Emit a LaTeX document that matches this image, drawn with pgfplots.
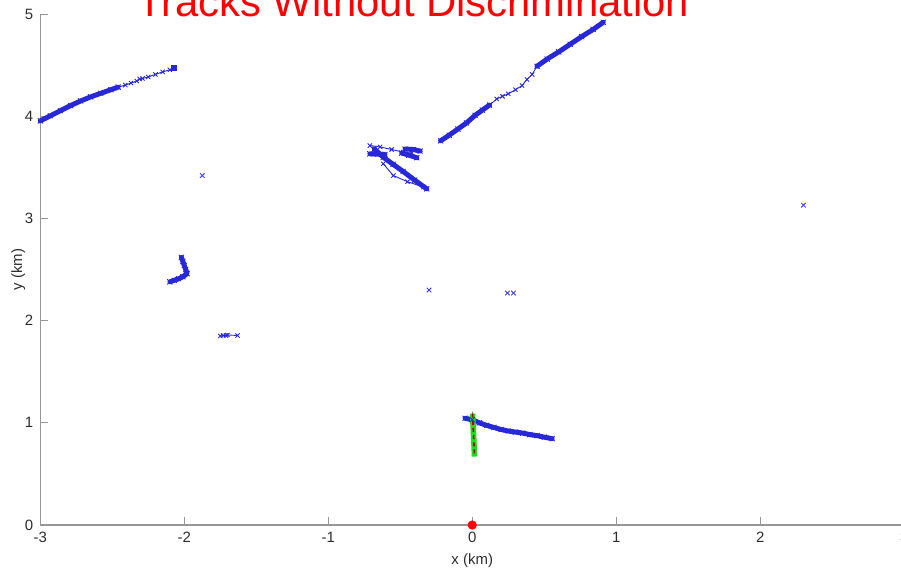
\documentclass[border=0pt]{standalone}
\usepackage{fontspec}
\setmainfont{Liberation Sans}
\usepackage{pgfplots}
\pgfplotsset{compat=1.18}

\definecolor{trk}{RGB}{40,40,215}
\definecolor{axgray}{RGB}{150,150,150}
\definecolor{lblgray}{RGB}{45,45,45}
\definecolor{grn}{RGB}{25,225,25}
\definecolor{ttl}{RGB}{255,0,0}

\begin{document}
\begin{tikzpicture}
\begin{axis}[
  scale only axis,
  width=433.5pt, height=256.4pt,
  xmin=-3, xmax=3, ymin=0, ymax=5,
  axis lines=left,
  axis line style={-, draw=axgray, line width=0.6pt},
  xtick={-3,-2,-1,0,1,2,3},
  xticklabels={-3,-2,-1,0,1,2,3},
  ytick={0,1,2,3,4,5},
  yticklabels={0,1,2,3,4,5},
  tick align=inside,
  major tick length=4pt,
  tick style={draw=axgray, line width=0.5pt},
  ticklabel style={font=\fontsize{7.5}{9}\selectfont, text=lblgray},
  /pgf/number format/assume math mode=true,
  xlabel={x (km)}, ylabel={y (km)},
  every axis x label/.style={at={(axis description cs:0.5,-0.0689)}, anchor=center,
    font=\fontsize{7.5}{9}\selectfont, text=lblgray},
  every axis y label/.style={at={(axis description cs:-0.0255,0.5)}, anchor=center,
    rotate=90, font=\fontsize{7.5}{9}\selectfont, text=lblgray},
  clip=false,
  trackband/.style={trk, line width=2.5pt, line join=round, line cap=round,
    mark=x, mark size=1.7pt, mark options={line width=0.45pt, trk}},
  trackthin/.style={trk, line width=0.45pt,
    mark=x, mark size=1.5pt, mark options={line width=0.45pt, trk}},
  single/.style={only marks, mark=x, mark size=1.6pt, mark options={line width=0.5pt, trk!85}},
]

% ---- track north-west: dense then sparse
\addplot[trackband] coordinates {
  (-3.00,3.955) (-2.93,4.005) (-2.86,4.055) (-2.79,4.105) (-2.72,4.150)
  (-2.65,4.190) (-2.58,4.225) (-2.51,4.260) (-2.46,4.285)
};
\addplot[trackthin] coordinates {
  (-2.46,4.285) (-2.41,4.305) (-2.37,4.325) (-2.33,4.345) (-2.31,4.365)
  (-2.29,4.370) (-2.25,4.385) (-2.20,4.410) (-2.15,4.435) (-2.10,4.455) (-2.07,4.475)
};
\addplot[only marks, mark=square*, mark size=1.3pt, trk] coordinates {(-2.07,4.475)};

% ---- track north-east
\addplot[trackband] coordinates {
  (-0.22,3.760) (-0.16,3.815) (-0.10,3.875) (-0.04,3.935) (0.02,4.010) (0.07,4.060) (0.12,4.110)
};
\addplot[trackthin] coordinates {
  (0.12,4.110) (0.17,4.170) (0.21,4.195) (0.25,4.220) (0.30,4.260) (0.346,4.300)
  (0.38,4.360) (0.416,4.410) (0.45,4.490)
};
\addplot[trackband] coordinates {
  (0.45,4.490) (0.52,4.560) (0.60,4.630) (0.68,4.705) (0.76,4.780) (0.84,4.850) (0.91,4.920)
};

% ---- crossing tracks near (-0.5, 3.5)
\addplot[trackthin] coordinates {
  (-0.711,3.714) (-0.64,3.700) (-0.56,3.675) (-0.479,3.649) (-0.42,3.640)
};
\addplot[trackband] coordinates {(-0.711,3.633) (-0.66,3.630) (-0.606,3.626)};
\addplot[trackband] coordinates {(-0.49,3.640) (-0.44,3.620) (-0.385,3.594)};
\addplot[trackband] coordinates {(-0.467,3.680) (-0.41,3.675) (-0.362,3.660)};
\addplot[trackband] coordinates {
  (-0.68,3.680) (-0.618,3.600) (-0.55,3.530) (-0.48,3.460) (-0.40,3.375) (-0.316,3.290)
};
\addplot[trackthin] coordinates {
  (-0.618,3.535) (-0.548,3.420) (-0.45,3.360) (-0.339,3.308)
};

% ---- L-shaped track near (-2, 2.5)
\addplot[trackband] coordinates {
  (-2.02,2.620) (-2.01,2.580) (-2.00,2.540) (-1.99,2.500) (-1.98,2.460)
  (-2.01,2.430) (-2.04,2.410) (-2.07,2.395) (-2.10,2.380)
};

% ---- short track near (-1.7, 1.85)
\addplot[trackthin] coordinates {
  (-1.75,1.850) (-1.73,1.855) (-1.71,1.855) (-1.70,1.860) (-1.63,1.855)
};

% ---- isolated detections
\addplot[single] coordinates {
  (-1.875,3.420) (-0.30,2.300) (0.244,2.270) (0.286,2.270) (2.30,3.130)
};

% ---- track near origin heading east
\addplot[trackband] coordinates {
  (-0.05,1.045) (0.00,1.030) (0.05,1.000) (0.10,0.975) (0.15,0.955) (0.20,0.935)
  (0.25,0.920) (0.30,0.910) (0.35,0.900) (0.40,0.885) (0.45,0.875) (0.50,0.860) (0.555,0.845)
};

% ---- reference target: truth and estimate
\addplot[gray, line width=0.4pt] coordinates {(0.002,1.11) (0.004,1.06)};
\addplot[grn, line width=2.8pt] coordinates {(0.002,1.09) (0.016,0.67)};
\addplot[red!65!black, line width=0.8pt, dash pattern=on 2pt off 1.6pt] coordinates {(0.002,1.09) (0.016,0.67)};

% ---- sensor position
\addplot[only marks, mark=*, mark size=2.1pt, red, mark options={fill=red}] coordinates {(0,0)};

\coordinate (bbSW) at (axis cs:-3.28,-0.481);
\coordinate (bbNE) at (axis cs:2.978,5.138);
\coordinate (ttlpos) at (axis cs:-0.41,4.975);
\end{axis}

\node[anchor=base, text=ttl, font=\fontsize{21}{24}\selectfont, inner sep=0pt]
  at (ttlpos) {Tracks Without Discrimination};

\pgfresetboundingbox
\path[use as bounding box] (bbSW) rectangle (bbNE);
\end{tikzpicture}
\end{document}
